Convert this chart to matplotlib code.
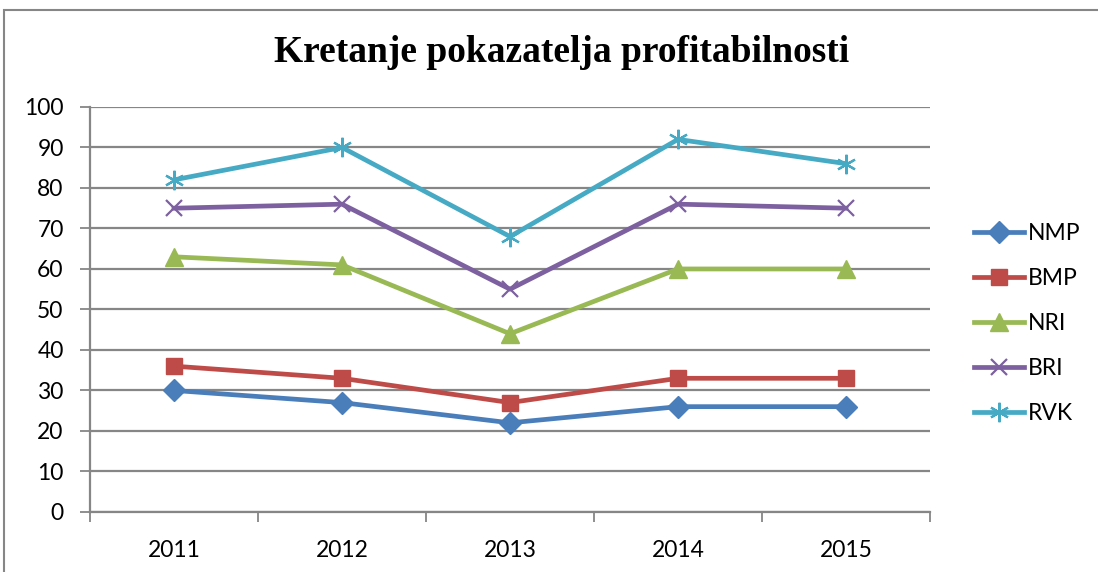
import matplotlib.pyplot as plt
from matplotlib.patches import Rectangle
from matplotlib.ticker import FixedLocator

years = ["2011", "2012", "2013", "2014", "2015"]
nmp = [30, 27, 22, 26, 26]
bmp = [36, 33, 27, 33, 33]
nri = [63, 61, 44, 60, 60]
bri = [75, 76, 55, 76, 75]
rvk = [82, 90, 68, 92, 86]

series = [
    ("NMP", nmp, "#4A7EBB", "D", 11),
    ("BMP", bmp, "#BE4B48", "s", 12),
    ("NRI", nri, "#98B954", "^", 13),
    ("BRI", bri, "#7D60A0", "x", 12),
    ("RVK", rvk, "#46AAC5", (6, 2, 0), 14),
]

plt.rcParams["font.family"] = ["Lato", "DejaVu Sans"]

fig = plt.figure(figsize=(10.98, 5.72), dpi=100)
ax = fig.add_axes([0.082, 0.105, 0.765, 0.708])

x = list(range(len(years)))
for name, vals, color, marker, ms in series:
    thin = marker == "x" or isinstance(marker, tuple)
    ax.plot(x, vals, color=color, lw=3.4, marker=marker, markersize=ms,
            markeredgewidth=1.6 if thin else 1,
            markeredgecolor=color, label=name)

ax.set_xlim(-0.5, 4.5)
ax.set_ylim(0, 100)
ax.set_yticks(range(0, 101, 10))
ax.set_xticks(x)
ax.set_xticklabels(years)
ax.xaxis.set_minor_locator(FixedLocator([i - 0.5 for i in range(6)]))
ax.tick_params(axis="x", which="major", length=0, pad=20, labelsize=16.5)
ax.tick_params(axis="x", which="minor", length=7, width=1.3, color="#868686", direction="out")
ax.tick_params(axis="y", length=7, width=1.3, color="#868686", direction="out",
               labelsize=16.5, pad=12)

ax.grid(axis="y", color="#868686", lw=1.6)
ax.set_axisbelow(True)
for side in ("top", "right"):
    ax.spines[side].set_visible(False)
for side in ("left", "bottom"):
    ax.spines[side].set_color("#868686")
    ax.spines[side].set_linewidth(1.6)

fig.text(0.511, 0.908, "Kretanje pokazatelja profitabilnosti", ha="center", va="center",
         fontsize=27, fontweight="bold", family="Liberation Serif")

leg = fig.legend(loc="center left", bbox_to_anchor=(0.868, 0.435), frameon=False,
                 fontsize=16.5, handlelength=2.2, handletextpad=0.15, labelspacing=1.05)

fig.patches.append(Rectangle((0.004, -0.1), 1.2, 1.083, transform=fig.transFigure,
                             fill=False, edgecolor="#868686", lw=1.5))

fig.savefig("out.png", dpi=100)
